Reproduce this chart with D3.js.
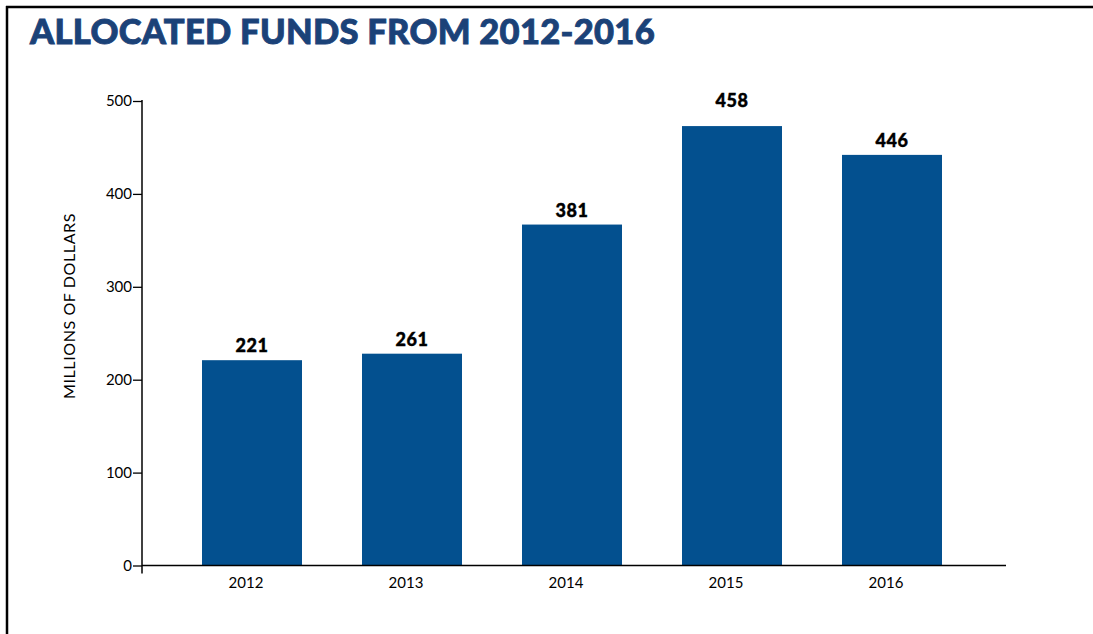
<!DOCTYPE html>
<html>
<head>
<meta charset="utf-8">
<script src="https://cdn.jsdelivr.net/npm/d3@7"></script>
<style>
  body { margin: 0; background: #fff; }
  svg { display: block; }
</style>
</head>
<body>
<svg id="chart"></svg>
<script>
// data
var years = ["2012", "2013", "2014", "2015", "2016"];
var barValues = [221, 228, 367, 473, 442];      // bar heights as drawn
var valueLabels = ["221", "261", "381", "458", "446"]; // printed labels
var yTicks = [0, 100, 200, 300, 400, 500];

var title = "ALLOCATED FUNDS FROM 2012-2016";
var yTitle = "MILLIONS OF DOLLARS";

var width = 1093, height = 634;
var barColor = "#03508f";
var font = "Lato, 'DejaVu Sans', sans-serif";

var svg = d3.select("#chart")
    .attr("width", width)
    .attr("height", height);

// frame lines (top and left)
svg.append("line")
    .attr("x1", 6).attr("x2", width).attr("y1", 7).attr("y2", 7)
    .attr("stroke", "#000").attr("stroke-width", 2.5);
svg.append("line")
    .attr("x1", 7).attr("x2", 7).attr("y1", 6).attr("y2", height)
    .attr("stroke", "#000").attr("stroke-width", 2.5);

svg.append("text")
    .attr("x", 30)
    .attr("y", 44)
    .style("font-family", font)
    .style("font-weight", 900)
    .style("font-size", "34.5px")
    .style("letter-spacing", "0.3px")
    .style("fill", "#1b4278")
    .style("stroke", "#1b4278")
    .style("stroke-width", 0.9)
    .text(title);

var y = d3.scaleLinear()
    .domain([0, 500])
    .range([565.5, 101]);

var x = d3.scaleBand()
    .domain(years)
    .range([172, 972])
    .paddingInner(0.375)
    .paddingOuter(0.1875);

var axisX0 = 142, axisX1 = 1006;

// bars
svg.selectAll("rect.bar")
    .data(barValues)
    .enter().append("rect")
    .attr("class", "bar")
    .attr("x", function(d, i) { return x(years[i]); })
    .attr("y", function(d) { return y(d); })
    .attr("width", x.bandwidth())
    .attr("height", function(d) { return y(0) - y(d); })
    .attr("fill", barColor);

// value labels
svg.selectAll("text.val")
    .data(barValues)
    .enter().append("text")
    .attr("class", "val")
    .attr("x", function(d, i) { return x(years[i]) + x.bandwidth() / 2; })
    .attr("y", function(d, i) { return y(d) - (i === 3 ? 19 : 8); })
    .attr("text-anchor", "middle")
    .style("font-family", font)
    .style("font-weight", 900)
    .style("font-size", "18px")
    .style("letter-spacing", "0.5px")
    .style("fill", "#000")
    .style("stroke", "#000")
    .style("stroke-width", 0.4)
    .text(function(d, i) { return valueLabels[i]; });

// y axis
var yAxis = d3.axisLeft(y)
    .tickValues(yTicks)
    .tickSize(9)
    .tickPadding(1);

var gy = svg.append("g")
    .attr("transform", "translate(" + axisX0 + ",0)")
    .call(yAxis);
gy.select(".domain").remove();
gy.selectAll(".tick line").attr("stroke", "#000").attr("stroke-width", 1.3);
gy.selectAll(".tick text")
    .style("font-family", font)
    .style("font-size", "15px")
    .style("fill", "#000");

svg.append("line")
    .attr("x1", axisX0).attr("x2", axisX0)
    .attr("y1", y(500) - 1).attr("y2", y(0) + 8)
    .attr("stroke", "#000").attr("stroke-width", 1.5);

// x axis baseline
svg.append("line")
    .attr("x1", axisX0).attr("x2", axisX1)
    .attr("y1", y(0)).attr("y2", y(0))
    .attr("stroke", "#000").attr("stroke-width", 1.5);

// year labels
svg.selectAll("text.year")
    .data(years)
    .enter().append("text")
    .attr("class", "year")
    .attr("x", function(d) { return x(d) + x.bandwidth() / 2 - 6; })
    .attr("y", 588)
    .attr("text-anchor", "middle")
    .style("font-family", font)
    .style("font-size", "15px")
    .style("fill", "#000")
    .text(function(d) { return d; });

// y title
svg.append("text")
    .attr("transform", "translate(75,306) rotate(-90)")
    .attr("text-anchor", "middle")
    .style("font-family", font)
    .style("font-size", "16px")
    .style("letter-spacing", "0.6px")
    .style("fill", "#000")
    .text(yTitle);
</script>
</body>
</html>
